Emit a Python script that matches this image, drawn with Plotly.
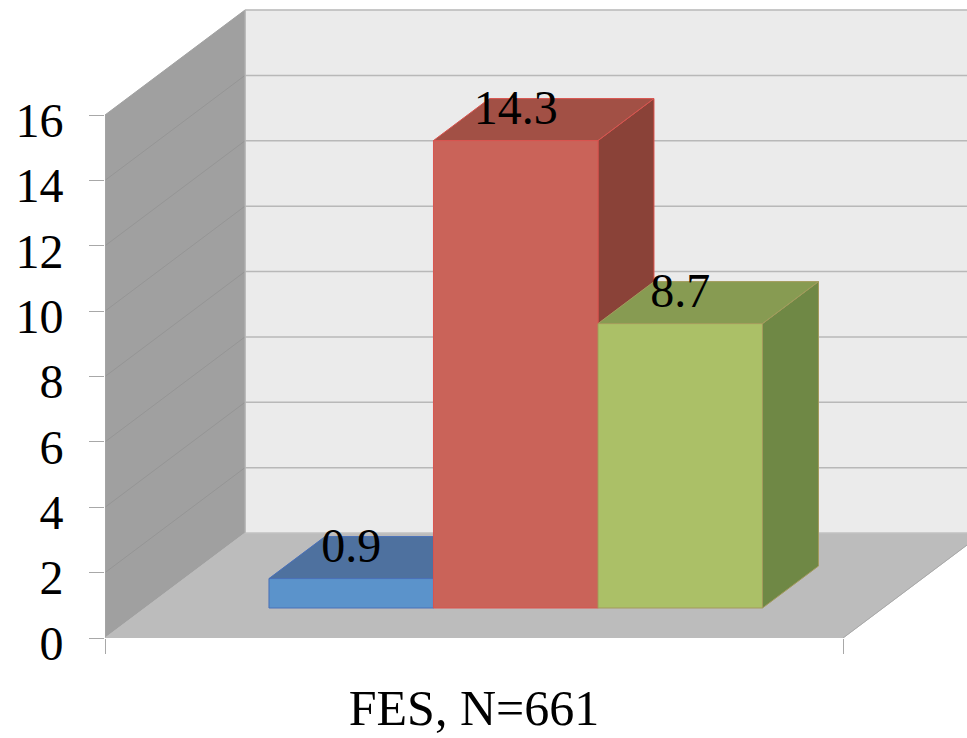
import plotly.graph_objects as go

# Data
category = "FES, N=661"
series_names = ["Series 1", "Series 2", "Series 3"]
series_values = [0.9, 14.3, 8.7]
value_ticks = [0, 2, 4, 6, 8, 10, 12, 14, 16]

# Colours
front_colors = ["#5b93cb", "#ca6359", "#abc067"]
top_colors = ["#4e719f", "#a25045", "#879b52"]
side_colors = ["#3f5f88", "#8a4238", "#6f8845"]
edge_colors = ["#4a70b8", "#d9544f", "#a39a5c"]
WALL, SIDE, FLOOR = "#ebebeb", "#a0a0a0", "#bcbcbc"
GRID, SIDE_GRID, EDGE = "#b8b8b8", "#929292", "#bdbdbd"
FONT = "Liberation Serif"

# Oblique projection of the 3D box: x in category band, v in value, d in depth (0..1)
PX_PER_X = 738.0
PX_PER_V = 523.0 / 16
DEPTH_X = 140.0 / PX_PER_X
DEPTH_V = 105.0 / PX_PER_V
BAR_START = 0.168
BAR_W = 0.2229
BAR_D0, BAR_D1 = 0.2857, 0.6857
LABEL_LIFT = 0.88
LABEL_DROP_PX = 5
PLOT_H = 638 + LABEL_DROP_PX
Y_TOP = 638.0 / PX_PER_V


def proj(x, v, d):
    return x + d * DEPTH_X, v + d * DEPTH_V


def poly(points, fill, line=None, width=1):
    xs, ys = zip(*[proj(*p) for p in points])
    return go.Scatter(
        x=list(xs) + [xs[0]], y=list(ys) + [ys[0]], mode="lines", fill="toself",
        fillcolor=fill, line=dict(color=line or fill, width=width),
        hoverinfo="skip", showlegend=False, cliponaxis=True,
    )


def path(points, color, width=1.2):
    xs, ys = zip(*[proj(*p) for p in points])
    return go.Scatter(
        x=list(xs), y=list(ys), mode="lines", line=dict(color=color, width=width),
        hoverinfo="skip", showlegend=False, cliponaxis=False,
    )


top = value_ticks[-1]
fig = go.Figure()

# walls and floor
fig.add_trace(poly([(0, 0, 1), (1.2, 0, 1), (1.2, top, 1), (0, top, 1)], WALL))
fig.add_trace(poly([(0, 0, 0), (0, 0, 1), (0, top, 1), (0, top, 0)], SIDE))
fig.add_trace(poly([(0, 0, 0), (1, 0, 0), (1, 0, 1), (1.2, 0, 1), (0, 0, 1)], FLOOR))

# gridlines
for t in value_ticks[1:]:
    if t < top:
        fig.add_trace(path([(0, t, 0), (0, t, 1)], SIDE_GRID, 0.8))
    fig.add_trace(path([(0, t, 1), (1.2, t, 1)], GRID, 1.5))
fig.add_trace(path([(0, 0, 1), (1.2, 0, 1)], "#c4c4c4", 1))
fig.add_trace(path([(0, 0, 1), (0, top, 1)], "#b4b4b4", 1))
fig.add_trace(path([(0, 0, 0), (1, 0, 0)], EDGE, 1.5))
fig.add_trace(path([(1, 0, 0), (1, 0, 1), (1.2, 0, 1)], "#a8a8a8", 1))
fig.add_trace(path([(0, 0, 0), (0, top, 0)], "#a8a8a8", 1))

# bars, left to right
for i, v in enumerate(series_values):
    x0 = BAR_START + i * BAR_W
    x1 = x0 + BAR_W
    fig.add_trace(poly([(x1, 0, BAR_D0), (x1, 0, BAR_D1), (x1, v, BAR_D1), (x1, v, BAR_D0)],
                       side_colors[i], edge_colors[i]))
    fig.add_trace(poly([(x0, v, BAR_D0), (x1, v, BAR_D0), (x1, v, BAR_D1), (x0, v, BAR_D1)],
                       top_colors[i], edge_colors[i]))
for i, v in enumerate(series_values):
    x0 = BAR_START + i * BAR_W
    x1 = x0 + BAR_W
    fig.add_trace(poly([(x0, 0, BAR_D0), (x1, 0, BAR_D0), (x1, v, BAR_D0), (x0, v, BAR_D0)],
                       front_colors[i], edge_colors[i]))

# value labels
for i, v in enumerate(series_values):
    cx = BAR_START + (i + 0.5) * BAR_W
    px, pv = proj(cx, v, BAR_D0)
    fig.add_trace(go.Scatter(
        x=[px], y=[pv + LABEL_LIFT], mode="text", text=[f"{v:g}"], textposition="middle center",
        textfont=dict(family=FONT, size=48, color="#000000"),
        hoverinfo="skip", showlegend=False, cliponaxis=False,
    ))

# carrier for the second y axis that holds the tick labels a few pixels lower
fig.add_trace(go.Scatter(x=[0], y=[0], yaxis="y2", mode="markers", marker=dict(opacity=0),
                         hoverinfo="skip", showlegend=False))

fig.update_layout(
    width=967, height=738,
    margin=dict(l=105, r=0, t=0, b=738 - PLOT_H, pad=0),
    paper_bgcolor="#ffffff", plot_bgcolor="rgba(0,0,0,0)",
    font=dict(family=FONT, color="#000000"),
    showlegend=False,
    xaxis=dict(
        range=[0, 862.0 / PX_PER_X], showgrid=False, zeroline=False, showline=False, automargin=False,
        anchor="y", tickmode="array", tickvals=[0.5], ticktext=[category], ticks="", ticklen=0,
        tickfont=dict(family=FONT, size=50), ticklabelstandoff=36,
        minor=dict(tickmode="array", tickvals=[0, 1], ticks="outside", ticklen=15,
                   tickcolor="#a8a8a8", tickwidth=1),
    ),
    yaxis=dict(
        domain=[LABEL_DROP_PX / PLOT_H, 1],
        range=[0, Y_TOP], showgrid=False, zeroline=False, showline=False, automargin=False,
        tickmode="array", tickvals=value_ticks, ticks="outside", ticklen=15,
        tickcolor="#a8a8a8", tickwidth=1, showticklabels=False,
    ),
    yaxis2=dict(
        domain=[0, 638 / PLOT_H], anchor="x", side="left",
        range=[0, Y_TOP], showgrid=False, zeroline=False, showline=False,
        automargin=False, tickmode="array", tickvals=value_ticks, ticktext=[str(t) for t in value_ticks],
        ticks="outside", ticklen=15, tickcolor="rgba(0,0,0,0)", tickwidth=1,
        tickfont=dict(family=FONT, size=48), ticklabelstandoff=16,
    ),
)

fig.write_html("out.html", config={"displayModeBar": False},
               post_script="document.body.style.margin='0';document.body.style.overflow='hidden';")
